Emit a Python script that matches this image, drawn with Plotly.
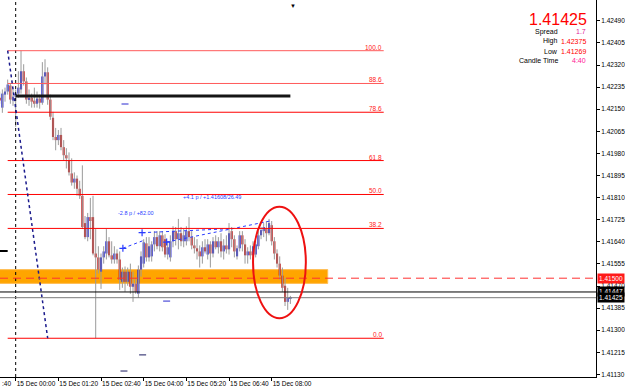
import plotly.graph_objects as go
import pandas as pd

# ---------------- data ----------------
first_bar = "2009-12-14 23:30"
opens = [1.42194,1.42156,1.42206,1.42218,1.42241,1.42183,1.42198,1.42210,1.42226,1.42296,
         1.42257,1.42187,1.42194,1.42183,1.42171,1.42191,1.42175,1.42276,1.42292,1.42187,
         1.42117,1.42043,1.42031,1.42051,1.42004,1.41973,1.41953,1.41903,1.41868,1.41883,
         1.41844,1.41817,1.41712,1.41658,1.41735,1.41735,1.41595,1.41580,1.41525,1.41580,
         1.41595,1.41642,1.41588,1.41572,1.41595,1.41572,1.41486,1.41525,1.41486,1.41525,
         1.41467,1.41479,1.41440,1.41533,1.41556,1.41634,1.41580,1.41584,1.41630,1.41658,
         1.41623,1.41665,1.41650,1.41591,1.41580,1.41642,1.41681,1.41650,1.41673,1.41642,
         1.41642,1.41681,1.41658,1.41626,1.41615,1.41603,1.41584,1.41619,1.41591,1.41630,
         1.41595,1.41642,1.41619,1.41642,1.41603,1.41626,1.41611,1.41681,1.41650,1.41584,
         1.41615,1.41665,1.41630,1.41588,1.41603,1.41588,1.41591,1.41623,1.41665,1.41681,
         1.41689,1.41673,1.41704,1.41642,1.41595,1.41556,1.41510,1.41471,1.41409,1.41420]
highs = [1.42218,1.42226,1.42233,1.42264,1.42249,1.42226,1.42226,1.42296,1.42375,1.42323,
         1.42272,1.42226,1.42210,1.42233,1.42218,1.42206,1.42331,1.42342,1.42311,1.42206,
         1.42140,1.42078,1.42070,1.42078,1.42031,1.42000,1.41984,1.41961,1.41907,1.41895,
         1.41875,1.41934,1.41739,1.41751,1.41809,1.41817,1.41689,1.41623,1.41595,1.41623,
         1.41689,1.41658,1.41642,1.41623,1.41611,1.41603,1.41541,1.41545,1.41541,1.41556,
         1.41525,1.41502,1.41549,1.41603,1.41650,1.41658,1.41658,1.41642,1.41681,1.41681,
         1.41681,1.41681,1.41669,1.41642,1.41665,1.41700,1.41697,1.41728,1.41697,1.41689,
         1.41700,1.41735,1.41681,1.41658,1.41650,1.41626,1.41642,1.41650,1.41650,1.41642,
         1.41658,1.41665,1.41658,1.41673,1.41650,1.41665,1.41712,1.41697,1.41665,1.41626,
         1.41681,1.41681,1.41650,1.41619,1.41626,1.41642,1.41642,1.41681,1.41697,1.41712,
         1.41720,1.41728,1.41720,1.41658,1.41611,1.41584,1.41541,1.41502,1.41463,1.41432]
lows = [1.42171,1.42136,1.42179,1.42206,1.42171,1.42163,1.42082,1.42194,1.42210,1.42241,
        1.42171,1.42163,1.42156,1.42156,1.42156,1.42152,1.42167,1.42245,1.42167,1.42109,
        1.42031,1.41992,1.42012,1.41992,1.41953,1.41922,1.41895,1.41856,1.41844,1.41817,
        1.41805,1.41689,1.41650,1.41642,1.41650,1.41588,1.41269,1.41518,1.41459,1.41556,
        1.41572,1.41580,1.41556,1.41556,1.41556,1.41455,1.41463,1.41448,1.41471,1.41440,
        1.41409,1.41440,1.41424,1.41506,1.41541,1.41564,1.41564,1.41564,1.41603,1.41611,
        1.41603,1.41603,1.41580,1.41572,1.41564,1.41619,1.41626,1.41611,1.41623,1.41619,
        1.41626,1.41642,1.41611,1.41595,1.41572,1.41541,1.41556,1.41595,1.41572,1.41541,
        1.41580,1.41611,1.41595,1.41580,1.41572,1.41595,1.41591,1.41619,1.41580,1.41572,
        1.41603,1.41603,1.41556,1.41556,1.41572,1.41572,1.41580,1.41611,1.41650,1.41658,
        1.41642,1.41665,1.41626,1.41572,1.41541,1.41494,1.41448,1.41393,1.41378,1.41401]
closes = [1.42183,1.42210,1.42218,1.42245,1.42187,1.42198,1.42210,1.42233,1.42296,1.42257,
          1.42187,1.42194,1.42179,1.42171,1.42191,1.42175,1.42276,1.42292,1.42187,1.42121,
          1.42043,1.42031,1.42051,1.42004,1.41973,1.41961,1.41907,1.41868,1.41883,1.41844,
          1.41817,1.41697,1.41658,1.41735,1.41720,1.41595,1.41580,1.41533,1.41580,1.41603,
          1.41642,1.41588,1.41572,1.41595,1.41572,1.41494,1.41525,1.41486,1.41525,1.41467,
          1.41479,1.41448,1.41533,1.41584,1.41638,1.41580,1.41623,1.41630,1.41658,1.41623,
          1.41665,1.41619,1.41591,1.41619,1.41642,1.41681,1.41650,1.41673,1.41642,1.41665,
          1.41681,1.41658,1.41626,1.41615,1.41603,1.41584,1.41619,1.41603,1.41630,1.41595,
          1.41642,1.41619,1.41642,1.41603,1.41626,1.41611,1.41673,1.41650,1.41603,1.41615,
          1.41665,1.41630,1.41588,1.41603,1.41588,1.41623,1.41630,1.41665,1.41685,1.41697,
          1.41673,1.41712,1.41642,1.41595,1.41556,1.41510,1.41463,1.41409,1.41424,1.41425]

y_tick_vals = [1.41130,1.41215,1.41300,1.41385,1.41470,1.41555,1.41640,1.41725,1.41810,
               1.41895,1.41980,1.42065,1.42150,1.42235,1.42320,1.42405,1.42490]
x_tick_times = ["2009-12-15 00:00","2009-12-15 01:20","2009-12-15 02:40","2009-12-15 04:00",
                "2009-12-15 05:20","2009-12-15 06:40","2009-12-15 08:00"]
x_tick_text = ["15 Dec 00:00","15 Dec 01:20","15 Dec 02:40","15 Dec 04:00",
               "15 Dec 05:20","15 Dec 06:40","15 Dec 08:00"]
cut_label = ":40"   # tail of the previous label "14 Dec 22:40", cut by the left edge

fib_high = 1.42375
fib_low = 1.41269
fib_ratios = [1.0, 0.886, 0.786, 0.618, 0.5, 0.382, 0.0]
fib_names = ["100.0", "88.6", "78.6", "61.8", "50.0", "38.2", "0.0"]
fib_t_high = "2009-12-14 23:45"
fib_t_low = "2009-12-15 01:00"
fib_t_end = "2009-12-15 11:30"

zone_low, zone_high = 1.41480, 1.41533
zone_end = "2009-12-15 09:45"
dash_level = 1.41500
black_level = 1.41447
bid = 1.41425
thick_level = 1.42201
thick_start, thick_end = "2009-12-15 00:00", "2009-12-15 08:35"
left_level = 1.41605
ellipse_t = ["2009-12-15 07:25", "2009-12-15 09:04"]
ellipse_p = [1.41346, 1.41775]

meas_lines = [  # (t0, p0, t1, p1)
    ("2009-12-15 03:21", 1.41615, "2009-12-15 04:02", 1.41647),
    ("2009-12-15 03:57", 1.41675, "2009-12-15 06:48", 1.41691),
    ("2009-12-15 04:43", 1.41639, "2009-12-15 07:57", 1.41720),
]
meas_texts = [("2009-12-15 03:45", 1.41751, "-2.8 p / +82.00"),
              ("2009-12-15 06:08", 1.41812, "+4.1 p / +1.41608/26.49")]
dash_marks = [("2009-12-15 03:25", 1.42170, "#2a2ad0"), ("2009-12-15 04:43", 1.41412, "#2a2ad0"),
              ("2009-12-15 03:58", 1.41205, "#1a1a60"), ("2009-12-15 03:23", 1.41143, "#1a1a60")]

info_price = "1.41425"
info_rows = [("Spread", "1.7", "#e0209a"), ("High", "1.42375", "#ff0000"),
             ("Low", "1.41269", "#ff0000"), ("Candle Time", "4:40", "#ff1493")]

# ---------------- figure ----------------
times = pd.date_range(first_bar, periods=len(opens), freq="5min")
day0 = pd.Timestamp("2009-12-15 00:00")
x_start = day0 - pd.Timedelta(minutes=29.4)
x_end = day0 + pd.Timedelta(minutes=1088)

fig = go.Figure()

wx, wy = [], []
for t, h, l in zip(times, highs, lows):
    wx += [t, t, None]
    wy += [h, l, None]
fig.add_trace(go.Scatter(x=wx, y=wy, mode="lines", line=dict(color="#9a9a9a", width=1),
                         hoverinfo="skip", showlegend=False))
base = [min(o, c) for o, c in zip(opens, closes)]
hgt = [max(abs(c - o), 0.00003) for o, c in zip(opens, closes)]
cols = ["#1e1ed2" if c >= o else "#c81414" for o, c in zip(opens, closes)]
fig.add_trace(go.Bar(x=times, y=hgt, base=base, width=240000, marker=dict(color=cols, line=dict(width=0)),
                     showlegend=False, hoverinfo="skip"))

for t0, p0, t1, p1 in meas_lines:
    fig.add_trace(go.Scatter(x=[t0, t1], y=[p0, p1], mode="lines",
                             line=dict(color="#2a3cff", width=1, dash="dot"), showlegend=False))
    fig.add_trace(go.Scatter(x=[t0], y=[p0], mode="markers",
                             marker=dict(symbol="cross-thin", size=5, line=dict(color="#2a3cff", width=1.2)),
                             showlegend=False))
for t, p, c in dash_marks:
    fig.add_trace(go.Scatter(x=[t], y=[p], mode="markers",
                             marker=dict(symbol="line-ew", size=5, line=dict(color=c, width=1)),
                             showlegend=False))

shapes = []
shapes.append(dict(type="rect", xref="x", yref="y", x0=x_start - pd.Timedelta(hours=1), x1=zone_end,
                   y0=zone_low, y1=zone_high, fillcolor="#ffa500", line=dict(color="#ffbe55", width=1),
                   layer="below"))
shapes.append(dict(type="line", xref="x", yref="paper", x0=day0, x1=day0, y0=0, y1=1,
                   line=dict(color="black", width=1, dash="dot")))
fib_prices = [fib_low + r * (fib_high - fib_low) for r in fib_ratios]
for r, p in zip(fib_ratios, fib_prices):
    shapes.append(dict(type="line", xref="x", yref="y", x0=fib_t_high, x1=fib_t_end, y0=p, y1=p,
                       line=dict(color="#ff5a5a" if r >= 0.88 else "#ff0000", width=1)))
shapes.append(dict(type="line", xref="x", yref="y", x0=fib_t_high, x1=fib_t_low, y0=fib_high, y1=fib_low,
                   line=dict(color="#1a1a8c", width=1.5, dash="dot")))
shapes.append(dict(type="line", xref="paper", yref="y", x0=0, x1=1, y0=dash_level, y1=dash_level,
                   line=dict(color="#ff3030", width=1, dash="8px,5px")))
shapes.append(dict(type="line", xref="paper", yref="y", x0=0, x1=1, y0=black_level, y1=black_level,
                   line=dict(color="black", width=1)))
shapes.append(dict(type="line", xref="paper", yref="y", x0=0, x1=1, y0=bid, y1=bid,
                   line=dict(color="#7a7a7a", width=1)))
shapes.append(dict(type="line", xref="x", yref="y", x0=thick_start, x1=thick_end, y0=thick_level, y1=thick_level,
                   line=dict(color="#151515", width=3)))
shapes.append(dict(type="line", xref="x", yref="y", x0=x_start - pd.Timedelta(hours=1), x1=fib_t_high,
                   y0=left_level, y1=left_level, line=dict(color="black", width=2)))
shapes.append(dict(type="circle", xref="x", yref="y", x0=ellipse_t[0], x1=ellipse_t[1],
                   y0=ellipse_p[0], y1=ellipse_p[1], line=dict(color="#ee1111", width=2)))

ann = []
font_main = "Liberation Sans, Arial, sans-serif"
for name, p in zip(fib_names, fib_prices):
    ann.append(dict(x=fib_t_end, y=p, xref="x", yref="y", text=name, showarrow=False,
                    xanchor="right", yanchor="bottom", yshift=-2,
                    font=dict(size=6.5, color="#ff2020", family=font_main)))
for t, p, s in meas_texts:
    ann.append(dict(x=t, y=p, xref="x", yref="y", text=s, showarrow=False,
                    font=dict(size=5.5, color="#2a3cff", family=font_main)))

W, H = 596.0, 377.0
def px(x):
    return x / W
def py(y):
    return 1 - y / H

ann.append(dict(x=px(589), y=py(19), xref="paper", yref="paper", text=info_price, showarrow=False,
                xanchor="right", yanchor="middle", font=dict(size=16, color="#ff0000", family=font_main)))
for k, (lab, val, col) in enumerate(info_rows):
    yy = 31.5 + k * 9.8
    ann.append(dict(x=px(560), y=py(yy), xref="paper", yref="paper", text=lab, showarrow=False,
                    xanchor="right", yanchor="middle", font=dict(size=7, color="black", family=font_main)))
    ann.append(dict(x=px(588), y=py(yy), xref="paper", yref="paper", text=val, showarrow=False,
                    xanchor="right", yanchor="middle", font=dict(size=7, color=col, family=font_main)))

for p, bg in [(dash_level, "#ff1a1a"), (black_level, "#000000"), (bid, "#000000")]:
    ann.append(dict(x=1.0, y=p, xref="paper", yref="y", text=f"{p:.5f}", showarrow=False,
                    xanchor="left", yanchor="middle", xshift=1, bgcolor=bg, borderpad=1,
                    font=dict(size=6.5, color="white", family=font_main)))
ann.append(dict(x=0, y=py(383.5), xref="paper", yref="paper", text=cut_label, showarrow=False,
                xanchor="left", yanchor="middle", xshift=0, font=dict(size=6.5, color="black", family=font_main)))
ann.append(dict(x=px(293), y=1.0, xref="paper", yref="paper", text="▼", showarrow=False,
                xanchor="center", yanchor="top", font=dict(size=6, color="black")))

fig.update_layout(
    width=625, height=390, margin=dict(l=0, r=29, t=0, b=13, autoexpand=False),
    paper_bgcolor="white", plot_bgcolor="white", showlegend=False, barmode="overlay",
    shapes=shapes, annotations=ann,
    xaxis=dict(range=[x_start, x_end], type="date", showgrid=False, zeroline=False, automargin=False,
               showline=True, linecolor="black", linewidth=1, ticks="outside", ticklen=3,
               tickcolor="black", tickvals=x_tick_times, ticktext=x_tick_text, tickangle=0,
               ticklabelposition="outside right", ticklabelstandoff=0,
               tickfont=dict(size=6.5, color="black", family=font_main)),
    yaxis=dict(range=[1.41120, 1.42570], side="right", showgrid=False, zeroline=False, automargin=False,
               showline=True, linecolor="black", linewidth=1, ticks="outside", ticklen=3,
               tickcolor="black", tickvals=y_tick_vals, ticktext=[f"{v:.5f}" for v in y_tick_vals],
               tickfont=dict(size=6.5, color="black", family=font_main)),
)

fig.write_html("out.html")
